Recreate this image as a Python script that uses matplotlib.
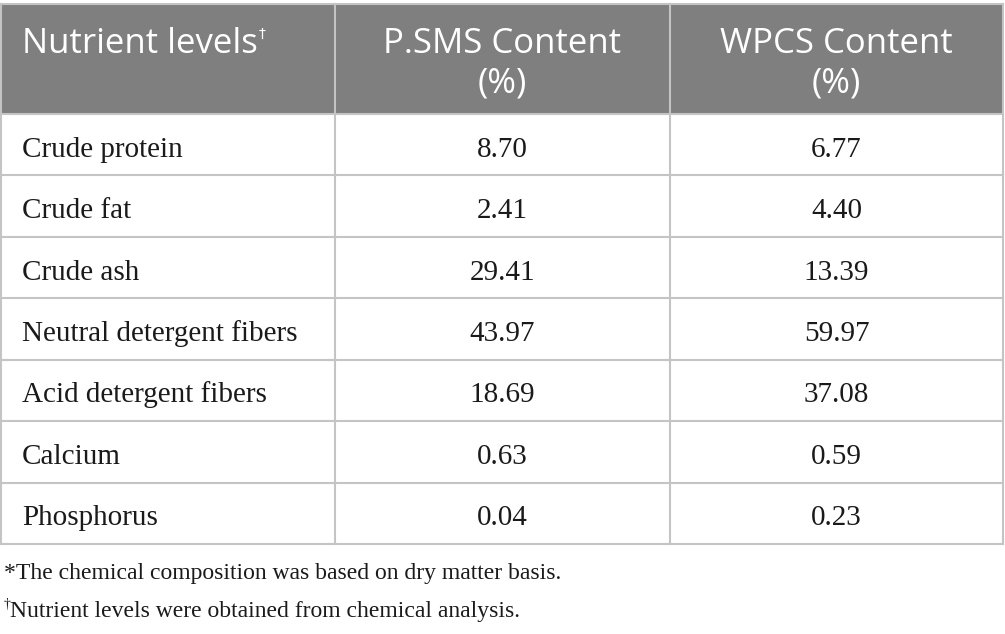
import matplotlib
matplotlib.use("Agg")
import matplotlib.pyplot as plt
from matplotlib.patches import Rectangle

# table content
header = ["Nutrient levels", "P.SMS Content\n(%)", "WPCS Content\n(%)"]
nutrients = ["Crude protein", "Crude fat", "Crude ash", "Neutral detergent fibers",
             "Acid detergent fibers", "Calcium", "Phosphorus"]
psms = ["8.70", "2.41", "29.41", "43.97", "18.69", "0.63", "0.04"]
wpcs = ["6.77", "4.40", "13.39", "59.97", "37.08", "0.59", "0.23"]
notes = ["*The chemical composition was based on dry matter basis.",
         "Nutrient levels were obtained from chemical analysis."]

W, H = 1005, 634
fig = plt.figure(figsize=(W / 100, H / 100), dpi=100)
ax = fig.add_axes([0, 0, 1, 1])
ax.set_xlim(0, W)
ax.set_ylim(H, 0)
ax.axis("off")

col_x = [1, 335, 670, 1003]
top, head_bot = 4, 114
row_h = (544 - head_bot) / len(nutrients)
grid = "#c4c4c4"

# header band
ax.add_patch(Rectangle((col_x[0], top), col_x[-1] - col_x[0], head_bot - top,
                       facecolor="#7f7f7f", edgecolor="none"))
hfont = dict(family="Open Sans", size=25, color="white")
t = ax.text(22, 53, header[0], va="baseline", ha="left", **hfont)
fig.canvas.draw()
bb = t.get_window_extent().transformed(ax.transData.inverted())
ax.text(bb.x1 + 1, 38, "\u2020", va="baseline", ha="left",
        family="DejaVu Sans", size=10, color="white")
for j, lab in enumerate(header[1:]):
    cx = (col_x[j + 1] + col_x[j + 2]) / 2
    l1, l2 = lab.split("\n")
    ax.text(cx, 53, l1, ha="center", va="baseline", **hfont)
    ax.text(cx, 92, l2, ha="center", va="baseline", **hfont)

# body rows
bfont = dict(family="Liberation Serif", size=21, color="#1a1a1a")
for i, name in enumerate(nutrients):
    yb = head_bot + (i + 0.5) * row_h + 12
    ax.text(22, yb, name, ha="left", va="baseline", **bfont)
    ax.text((col_x[1] + col_x[2]) / 2, yb, psms[i], ha="center", va="baseline", **bfont)
    ax.text((col_x[2] + col_x[3]) / 2, yb, wpcs[i], ha="center", va="baseline", **bfont)

# grid lines
bottom = head_bot + len(nutrients) * row_h
for k in range(len(nutrients) + 1):
    y = head_bot + k * row_h
    ax.plot([col_x[0], col_x[-1]], [y, y], color=grid, lw=1.5)
ax.plot([col_x[0], col_x[-1]], [top, top], color=grid, lw=1.5)
for x in col_x:
    ax.plot([x, x], [top, bottom], color=grid, lw=1.5)

# footnotes
nfont = dict(family="Liberation Serif", size=17, color="#1a1a1a")
ax.text(4, 579, notes[0], ha="left", va="baseline", **nfont)
ax.text(4, 608, "\u2020", ha="left", va="baseline", family="Liberation Serif",
        size=10, color="#1a1a1a")
ax.text(10, 617, notes[1], ha="left", va="baseline", **nfont)

fig.savefig("out.png", dpi=100)
